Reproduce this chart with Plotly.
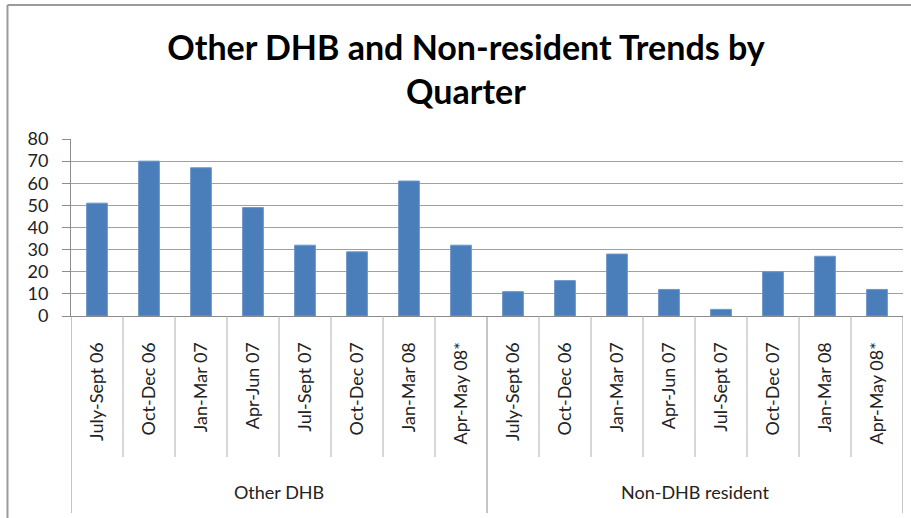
import plotly.graph_objects as go

groups = ["Other DHB", "Non-DHB resident"]
quarters = ["July-Sept 06", "Oct-Dec 06", "Jan-Mar 07", "Apr-Jun 07",
            "Jul-Sept 07", "Oct-Dec 07", "Jan-Mar 08", "Apr-May 08*"]
other_dhb = [51, 70, 67, 49, 32, 29, 61, 32]
non_dhb_resident = [11, 16, 28, 12, 3, 20, 27, 12]

title_text = "Other DHB and Non-resident Trends by<br>Quarter"
y_ticks = [0, 10, 20, 30, 40, 50, 60, 70, 80]

values = other_dhb + non_dhb_resident
labels = quarters + quarters
pos = list(range(len(values)))
n_per = len(quarters)

fig = go.Figure()
fig.add_trace(go.Bar(
    x=pos, y=values,
    marker=dict(color="#4A7EBB", line=dict(color="#6F97C9", width=1)),
    showlegend=False,
))

grid_col = "#a0a0a0"
line_col = "#8c8c8c"
shapes = []
# category boundary lines (through inner label band)
inner_bottom = -(457 - 316) / 177
outer_bottom = -(513 - 316) / 177
for i in range(len(values) + 1):
    xb = i - 0.5
    is_group = (i % n_per == 0)
    shapes.append(dict(type="line", xref="x", yref="paper",
                       x0=xb, x1=xb, y0=0,
                       y1=outer_bottom if is_group else inner_bottom,
                       line=dict(color=line_col if is_group else "#b0b0b0", width=1)))
# outer chart border (left & top visible)
bx = (7.5 - 71) / 832
by = (316 - 5) / 177
shapes.append(dict(type="line", xref="paper", yref="paper", x0=bx, x1=bx,
                   y0=(316 - 520) / 177, y1=by, line=dict(color="#9a9a9a", width=2)))
shapes.append(dict(type="line", xref="paper", yref="paper", x0=bx, x1=(915 - 71) / 832,
                   y0=by, y1=by, line=dict(color="#9a9a9a", width=2)))

annotations = []
for g, name in enumerate(groups):
    annotations.append(dict(text=name, x=g * n_per + (n_per - 1) / 2, xref="x",
                            y=(316 - 492) / 177, yref="paper", yanchor="middle",
                            showarrow=False, font=dict(family="Lato", size=18, color="#222")))

fig.update_layout(
    width=911, height=518,
    margin=dict(l=71, r=8, t=139, b=202, autoexpand=False),
    paper_bgcolor="white", plot_bgcolor="white",
    bargap=0.6,
    font=dict(family="Lato", color="#222"),
    title=dict(text="<b>" + title_text + "</b>", x=0.5115, xanchor="center",
               y=0.885, yanchor="top",
               font=dict(family="Lato", size=34, color="black")),
    shapes=shapes, annotations=annotations,
)
fig.update_yaxes(range=[0, 80], tickvals=y_ticks, showgrid=True,
                 gridcolor=grid_col, gridwidth=1,
                 showline=True, linecolor=line_col, linewidth=1,
                 ticks="outside", ticklen=8, tickcolor=line_col,
                 ticklabelstandoff=10,
                 tickfont=dict(size=18, color="#222"), zeroline=False,
                 automargin=False)
fig.update_xaxes(range=[-0.5, len(values) - 0.5], tickvals=pos, ticktext=labels,
                 tickangle=-90, showgrid=False, zeroline=False,
                 showline=True, linecolor=line_col, linewidth=1,
                 ticks="", ticklabelstandoff=18,
                 tickfont=dict(size=18, color="#222"), automargin=False)

fig.write_html("out.html", config={"displayModeBar": False},
               post_script="document.body.style.margin='0';")
